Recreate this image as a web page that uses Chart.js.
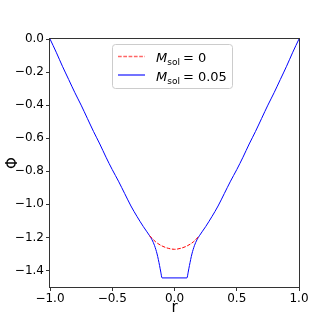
<!DOCTYPE html>
<html>
<head>
<meta charset="utf-8">
<script src="https://cdn.jsdelivr.net/npm/chart.js@4"></script>
<style>
  body { margin: 0; background: #fff; }
  canvas { display: block; }
</style>
</head>
<body>
<canvas id="phiChart" width="332" height="322"></canvas>
<script>
// radial positions and potential values
const rSol = [-1.0, -0.95, -0.9, -0.85, -0.8, -0.75, -0.7, -0.65, -0.6, -0.55, -0.5, -0.45, -0.4, -0.35, -0.3, -0.25, -0.2,
              -0.18, -0.16, -0.14, -0.12, -0.11, -0.1,
              0.1, 0.11, 0.12, 0.14, 0.16, 0.18,
              0.2, 0.25, 0.3, 0.35, 0.4, 0.45, 0.5, 0.55, 0.6, 0.65, 0.7, 0.75, 0.8, 0.85, 0.9, 0.95, 1.0];
const phiSol = [0, -0.08, -0.165, -0.245, -0.325, -0.40, -0.48, -0.56, -0.635, -0.715, -0.79, -0.86, -0.935, -1.01, -1.075, -1.135, -1.19,
                -1.215, -1.25, -1.30, -1.37, -1.41, -1.445,
                -1.445, -1.41, -1.37, -1.30, -1.25, -1.215,
                -1.19, -1.135, -1.075, -1.01, -0.935, -0.86, -0.79, -0.715, -0.635, -0.56, -0.48, -0.40, -0.325, -0.245, -0.165, -0.08, 0];
const rNoSol = [-0.2, -0.15, -0.1, -0.05, 0, 0.05, 0.1, 0.15, 0.2];
const phiNoSol = [-1.19, -1.228, -1.252, -1.266, -1.272, -1.266, -1.252, -1.228, -1.19];
const xTicks = [-1.0, -0.5, 0.0, 0.5, 1.0];
const yTicks = [0.0, -0.2, -0.4, -0.6, -0.8, -1.0, -1.2, -1.4];

const FONT = '"DejaVu Sans", sans-serif';
const fmt = v => v.toFixed(1).replace('-', '\u2212');

const framePlugin = {
    id: 'frame',
    afterDatasetsDraw(chart) {
        const c = chart.ctx, a = chart.chartArea;
        c.save();
        // axes box
        c.strokeStyle = '#333';
        c.lineWidth = 1;
        c.strokeRect(Math.round(a.left) - 0.5, Math.round(a.top) - 0.5,
                     Math.round(a.right - a.left) + 1, Math.round(a.bottom - a.top) + 1);

        // axis titles
        c.fillStyle = '#000';
        c.font = '15px ' + FONT;
        c.textAlign = 'center';
        c.textBaseline = 'alphabetic';
        c.fillText('r', (a.left + a.right) / 2, 312);
        c.save();
        c.translate(13, (a.top + a.bottom) / 2);
        c.rotate(-Math.PI / 2);
        c.textBaseline = 'middle';
        c.fillText('\u03A6', 0, 0);
        c.restore();

        // legend
        c.fillStyle = 'rgba(255,255,255,0.85)';
        c.strokeStyle = '#ccc';
        c.beginPath();
        c.roundRect(112.5, 44.5, 120, 44, 3);
        c.fill();
        c.stroke();

        c.strokeStyle = 'rgba(255,0,0,0.6)';
        c.lineWidth = 1.5;
        c.setLineDash([3.7, 1.6]);
        c.beginPath(); c.moveTo(118, 56.5); c.lineTo(145, 56.5); c.stroke();
        c.setLineDash([]);
        c.strokeStyle = 'rgba(0,0,255,0.55)';
        c.lineWidth = 2;
        c.beginPath(); c.moveTo(118, 75); c.lineTo(145, 75); c.stroke();

        const entries = [['0', 62], ['0.05', 81]];
        c.fillStyle = '#000';
        c.textAlign = 'left';
        entries.forEach(([val, base]) => {
            let x = 156;
            c.font = 'italic 13px ' + FONT;
            c.fillText('M', x, base);
            x += c.measureText('M').width;
            c.font = '9px ' + FONT;
            c.fillText('sol', x, base + 3);
            x += c.measureText('sol').width + 3;
            c.font = '13px ' + FONT;
            c.fillText('= ' + val, x, base);
        });
        c.restore();
    }
};

const ctx = document.getElementById('phiChart').getContext('2d');
new Chart(ctx, {
    type: 'line',
    data: {
        datasets: [{
            label: 'M_sol = 0',
            data: rNoSol.map((r, i) => ({ x: r, y: phiNoSol[i] })),
            borderColor: '#ff0000',
            borderWidth: 1,
            borderDash: [3.7, 1.6],
            cubicInterpolationMode: 'monotone',
            pointRadius: 0
        }, {
            label: 'M_sol = 0.05',
            data: rSol.map((r, i) => ({ x: r, y: phiSol[i] })),
            borderColor: '#0000ff',
            borderWidth: 1,
            cubicInterpolationMode: 'monotone',
            pointRadius: 0
        }]
    },
    options: {
        responsive: false,
        animation: false,
        layout: { padding: { left: 0, top: 39, right: 33, bottom: 0 } },
        plugins: { legend: { display: false }, tooltip: { enabled: false } },
        scales: {
            x: {
                type: 'linear',
                min: -1, max: 1,
                afterBuildTicks: s => { s.ticks = xTicks.map(v => ({ value: v })); },
                afterFit: s => { s.height = 35; },
                grid: { drawOnChartArea: false, tickLength: 4, color: '#333' },
                border: { display: false },
                ticks: { callback: fmt, color: '#000', padding: 1, maxRotation: 0,
                         font: { family: FONT, size: 12 } }
            },
            y: {
                type: 'linear',
                min: -1.5, max: 0,
                afterBuildTicks: s => { s.ticks = yTicks.map(v => ({ value: v })); },
                afterFit: s => { s.width = 50; },
                grid: { drawOnChartArea: false, tickLength: 4, color: '#333' },
                border: { display: false },
                ticks: { callback: fmt, color: '#000', padding: 2,
                         font: { family: FONT, size: 12 } }
            }
        }
    },
    plugins: [framePlugin]
});
</script>
</body>
</html>
